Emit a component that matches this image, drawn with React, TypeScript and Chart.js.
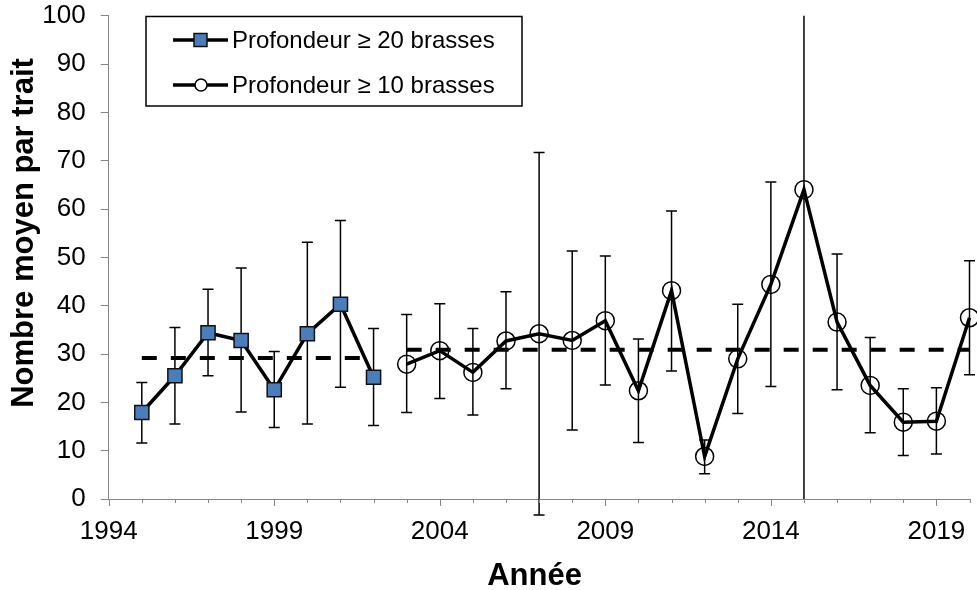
import React, { useEffect, useRef } from "react";
import { Chart, registerables } from "chart.js";

Chart.register(...registerables);

const FONT = "'Liberation Sans', Arial, sans-serif";

// Profondeur >= 20 brasses
const years20 = [1995, 1996, 1997, 1998, 1999, 2000, 2001, 2002];
const mean20 = [17.9, 25.5, 34.4, 32.8, 22.6, 34.2, 40.3, 25.2];
const low20 = [11.6, 15.5, 25.5, 18.0, 14.8, 15.5, 23.1, 15.2];
const high20 = [24.1, 35.5, 43.4, 47.8, 30.5, 53.1, 57.6, 35.3];
const avg20 = 29.2;

// Profondeur >= 10 brasses
const years10 = [2003, 2004, 2005, 2006, 2007, 2008, 2009, 2010, 2011, 2012, 2013, 2014, 2015, 2016, 2017, 2018, 2019, 2020];
const mean10 = [27.9, 30.7, 26.2, 32.7, 34.2, 32.8, 36.9, 22.4, 43.1, 8.8, 29.0, 44.4, 64.0, 36.6, 23.5, 15.9, 16.1, 37.5];
const low10 = [17.9, 20.8, 17.4, 22.8, -3.3, 14.3, 23.6, 11.7, 26.5, 5.2, 17.7, 23.3, 0, 22.6, 13.7, 9.0, 9.3, 25.7];
const high10 = [38.2, 40.4, 35.3, 42.9, 71.7, 51.3, 50.3, 33.1, 59.6, 12.2, 40.3, 65.6, 130, 50.7, 33.4, 22.8, 23.0, 49.3];
const avg10 = 30.9;

const xMin = 1994;
const xMax = 2020;
const labelEvery = 5;

const legendLabels = ["Profondeur \u2265 20 brasses", "Profondeur \u2265 10 brasses"];
const xTitle = "Ann\u00e9e";
const yTitle = "Nombre moyen par trait";

const BLUE = "#4A7EBB";

const errorBarsPlugin = {
  id: "errorBars",
  beforeDatasetsDraw(chart: any) {
    const { ctx, chartArea, scales } = chart;
    const x = scales.x;
    const y = scales.y;
    ctx.save();
    ctx.beginPath();
    ctx.rect(0, chartArea.top, chart.width, chartArea.bottom + 30 - chartArea.top);
    ctx.clip();
    ctx.strokeStyle = "#000";
    ctx.lineWidth = 1.5;
    const draw = (xs: number[], lo: number[], hi: number[]) => {
      xs.forEach((yr, i) => {
        const px = x.getPixelForValue(yr);
        const pl = y.getPixelForValue(lo[i]);
        const ph = y.getPixelForValue(hi[i]);
        ctx.beginPath();
        ctx.moveTo(px, pl);
        ctx.lineTo(px, ph);
        if (lo[i] !== y.min) {
          ctx.moveTo(px - 5.5, pl);
          ctx.lineTo(px + 5.5, pl);
        }
        ctx.moveTo(px - 5.5, ph);
        ctx.lineTo(px + 5.5, ph);
        ctx.stroke();
      });
    };
    draw(years20, low20, high20);
    draw(years10, low10, high10);
    ctx.restore();
  },
};

const xTicksPlugin = {
  id: "xTickMarks",
  afterDraw(chart: any) {
    const { ctx, scales } = chart;
    const x = scales.x;
    const base = x.top;
    ctx.save();
    ctx.strokeStyle = "#868686";
    ctx.lineWidth = 1;
    for (let yr = xMin; yr <= xMax; yr++) {
      const px = Math.round(x.getPixelForValue(yr)) + 0.5;
      const len = (yr - xMin) % labelEvery === 0 ? 7 : 4;
      ctx.beginPath();
      ctx.moveTo(px, base);
      ctx.lineTo(px, base + len);
      ctx.stroke();
    }
    ctx.restore();
  },
};

const titlesPlugin = {
  id: "axisTitles",
  afterDraw(chart: any) {
    const { ctx } = chart;
    ctx.save();
    ctx.fillStyle = "#000";
    ctx.font = `bold 31px ${FONT}`;
    ctx.textAlign = "center";
    ctx.textBaseline = "alphabetic";
    ctx.fillText(xTitle, 534.5, 585);
    ctx.translate(33.3, 233);
    ctx.rotate(-Math.PI / 2);
    ctx.fillText(yTitle, 0, 0);
    ctx.restore();
  },
};

const legendPlugin = {
  id: "boxLegend",
  afterDraw(chart: any) {
    const { ctx } = chart;
    ctx.save();
    ctx.strokeStyle = "#000";
    ctx.lineWidth = 1.5;
    ctx.fillStyle = "#fff";
    ctx.fillRect(146, 16.5, 376, 89.5);
    ctx.strokeRect(146, 16.5, 376, 89.5);
    const rows = [40, 85];
    rows.forEach((ry, i) => {
      ctx.strokeStyle = "#000";
      ctx.lineWidth = 3.5;
      ctx.beginPath();
      ctx.moveTo(173, ry);
      ctx.lineTo(228, ry);
      ctx.stroke();
      ctx.lineWidth = 1.5;
      if (i === 0) {
        ctx.fillStyle = BLUE;
        ctx.fillRect(194, ry - 6.5, 13, 13);
        ctx.strokeStyle = "#111";
        ctx.strokeRect(194, ry - 6.5, 13, 13);
      } else {
        ctx.fillStyle = "#fff";
        ctx.beginPath();
        ctx.arc(201, ry, 6, 0, Math.PI * 2);
        ctx.fill();
        ctx.stroke();
      }
      ctx.fillStyle = "#000";
      ctx.font = `24px ${FONT}`;
      ctx.textBaseline = "middle";
      ctx.textAlign = "left";
      ctx.fillText(legendLabels[i], 232, ry + 1);
    });
    ctx.restore();
  },
};

const zeroPadding = (s: any) => {
  s.paddingTop = 0;
  s.paddingBottom = 0;
  s.paddingLeft = 0;
  s.paddingRight = 0;
};

export default function App() {
  const ref = useRef<HTMLCanvasElement>(null);

  useEffect(() => {
    const canvas = ref.current;
    if (!canvas) return;
    const chart = new Chart(canvas, {
      type: "line",
      data: {
        datasets: [
          {
            label: "moy20",
            data: [
              { x: years20[0], y: avg20 },
              { x: years20[years20.length - 1], y: avg20 },
            ],
            borderColor: "#000",
            borderWidth: 4,
            borderDash: [15, 14],
            pointRadius: 0,
            fill: false,
            order: 3,
          },
          {
            label: "moy10",
            data: [
              { x: years10[0], y: avg10 },
              { x: years10[years10.length - 1], y: avg10 },
            ],
            borderColor: "#000",
            borderWidth: 4,
            borderDash: [15, 14],
            pointRadius: 0,
            fill: false,
            clip: false,
            order: 3,
          },
          {
            label: legendLabels[0],
            data: years20.map((yr, i) => ({ x: yr, y: mean20[i] })),
            borderColor: "#000",
            borderWidth: 3.5,
            pointStyle: "rect",
            pointRadius: 10,
            pointBackgroundColor: BLUE,
            pointBorderColor: "#111",
            pointBorderWidth: 1.5,
            fill: false,
            tension: 0,
            order: 1,
          },
          {
            label: legendLabels[1],
            data: years10.map((yr, i) => ({ x: yr, y: mean10[i] })),
            borderColor: "#000",
            borderWidth: 3.5,
            pointStyle: "circle",
            pointRadius: 9,
            pointBackgroundColor: "rgba(0,0,0,0)",
            pointBorderColor: "#000",
            pointBorderWidth: 1.5,
            fill: false,
            tension: 0,
            clip: false,
            order: 1,
          },
        ] as any,
      },
      options: {
        responsive: false,
        animation: false,
        events: [],
        layout: { autoPadding: false, padding: { top: 15.7, right: 7.5, left: 0, bottom: 0 } },
        plugins: {
          legend: { display: false },
          tooltip: { enabled: false },
        },
        scales: {
          x: {
            type: "linear",
            min: xMin,
            max: xMax,
            ticks: {
              stepSize: 1,
              autoSkip: false,
              maxRotation: 0,
              minRotation: 0,
              padding: 9,
              color: "#000",
              font: { size: 26, family: FONT },
              callback: (v: any) => ((Number(v) - xMin) % labelEvery === 0 ? String(v) : ""),
            },
            grid: { display: false },
            border: { display: true, color: "#868686", width: 1 },
            title: { display: false },
            afterFit: (s: any) => {
              s.height = 91;
              zeroPadding(s);
            },
          },
          y: {
            min: 0,
            max: 100,
            ticks: {
              stepSize: 10,
              padding: 15,
              color: "#000",
              font: { size: 26, family: FONT },
            },
            grid: {
              drawOnChartArea: false,
              drawTicks: true,
              tickLength: 8,
              color: "#868686",
            },
            border: { display: true, color: "#868686", width: 1 },
            title: { display: false },
            afterFit: (s: any) => {
              s.width = 108.7;
              zeroPadding(s);
            },
          },
        },
      } as any,
      plugins: [errorBarsPlugin, xTicksPlugin, titlesPlugin, legendPlugin],
    });
    return () => chart.destroy();
  }, []);

  return (
    <div style={{ position: "fixed", left: 0, top: 0, width: 977, height: 590, background: "#fff" }}>
      <canvas ref={ref} width={977} height={590} style={{ display: "block" }} />
    </div>
  );
}
